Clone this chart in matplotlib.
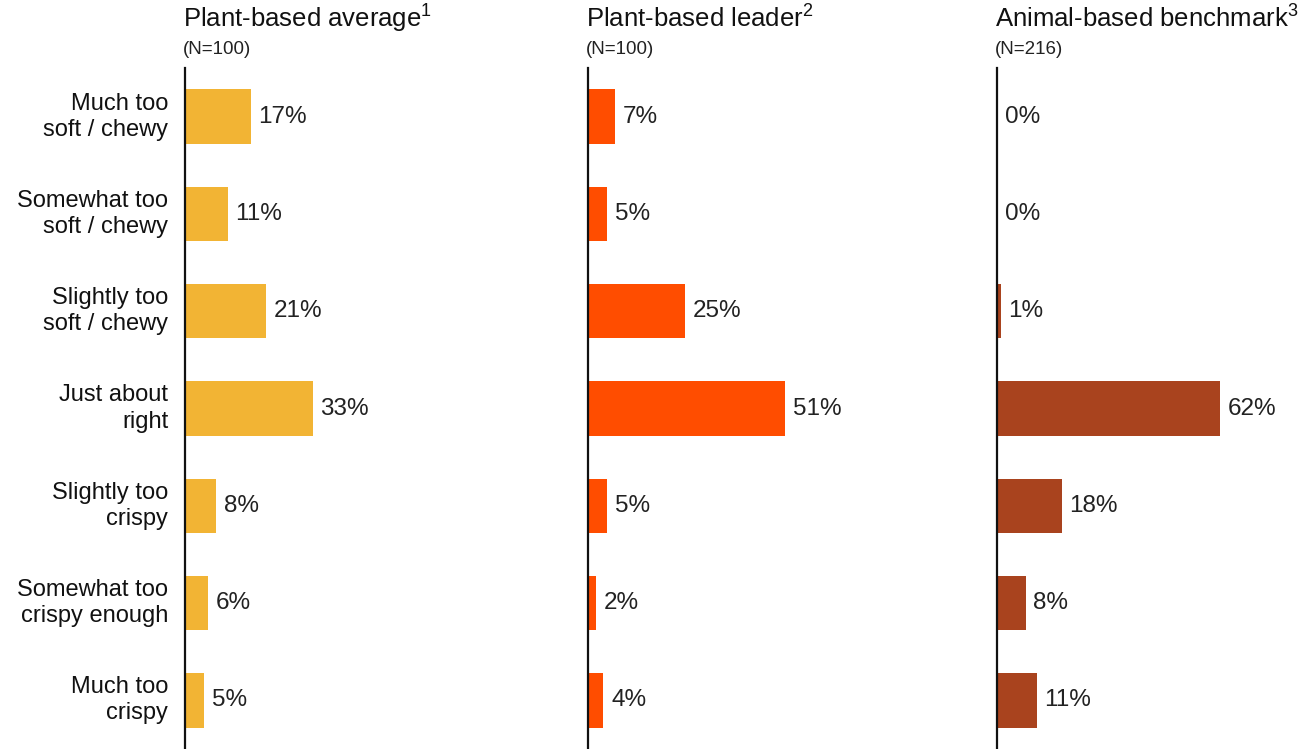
import matplotlib
matplotlib.use("Agg")
import matplotlib.pyplot as plt

plt.rcParams['font.family'] = ['Liberation Sans', 'DejaVu Sans']
plt.rcParams['mathtext.fontset'] = 'custom'
plt.rcParams['mathtext.rm'] = 'Liberation Sans'
plt.rcParams['mathtext.it'] = 'Liberation Sans'
plt.rcParams['mathtext.bf'] = 'Liberation Sans'

categories = ["Much too\nsoft / chewy", "Somewhat too\nsoft / chewy", "Slightly too\nsoft / chewy",
              "Just about\nright", "Slightly too\ncrispy", "Somewhat too\ncrispy enough", "Much too\ncrispy"]
plant_avg = [17, 11, 21, 33, 8, 6, 5]
plant_leader = [7, 5, 25, 51, 5, 2, 4]
animal_bench = [0, 0, 1, 62, 18, 8, 11]
titles = ["Plant-based average$^{\\mathrm{1}}$", "Plant-based leader$^{\\mathrm{2}}$",
          "Animal-based benchmark$^{\\mathrm{3}}$"]
n_labels = ["(N=100)", "(N=100)", "(N=216)"]
colors = ["#F2B434", "#FF4D00", "#A9431E"]
series = [plant_avg, plant_leader, animal_bench]

W, H = 1308, 749
fig = plt.figure(figsize=(W / 100, H / 100), dpi=100)

lefts = [185, 588, 997]
scales = [3.87, 3.87, 3.60]   # px per percent
widths = [330, 330, 300]
top, bottom = 68, 749

for i in range(3):
    ax = fig.add_axes([lefts[i] / W, 0, widths[i] / W, (bottom - top) / H])
    ax.set_ylim(len(categories) - 0.5, -0.5)
    ax.set_xlim(0, widths[i] / scales[i])
    y = list(range(len(categories)))
    ax.barh(y, series[i], height=0.56, color=colors[i], linewidth=0)
    for yy, v in zip(y, series[i]):
        ax.annotate(f"{v}%", xy=(v, yy), xytext=(5.5, 0), textcoords="offset points",
                    ha="left", va="center", fontsize=17.5, color="#222222")
    for s in ["top", "right", "bottom"]:
        ax.spines[s].set_visible(False)
    ax.spines["left"].set_linewidth(1.6)
    ax.spines["left"].set_color("#111111")
    ax.set_xticks([])
    ax.set_yticks([])
    if i == 0:
        for yy, c in zip(y, categories):
            ax.annotate(c, xy=(0, yy), xytext=(-12, 0), textcoords="offset points",
                        ha="right", va="center", fontsize=17, color="#111111",
                        linespacing=1.25)
    fig.text((lefts[i] - 2) / W, 1 - 19 / H, titles[i], ha="left", va="center",
             fontsize=18.5, color="#111111")
    fig.text((lefts[i] - 2) / W, 1 - 49 / H, n_labels[i], ha="left", va="center",
             fontsize=13.5, color="#222222")

fig.savefig("out.png", dpi=100)
